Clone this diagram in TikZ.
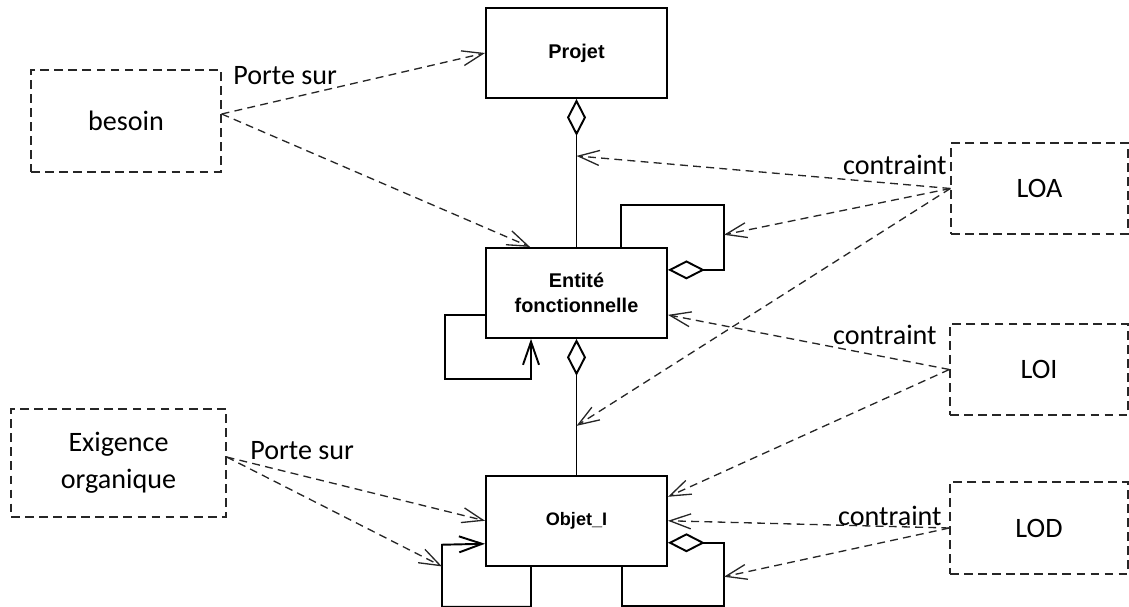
\documentclass[tikz,border=0pt]{standalone}
\usepackage{fontspec}
\setmainfont{Carlito}
\newfontfamily\clsfont{Liberation Sans}
\usetikzlibrary{arrows.meta,positioning,calc}
\definecolor{depGray}{HTML}{262626}
\tikzset{
  classbox/.style={draw=black, line width=1.1pt, minimum width=3.62cm, minimum height=1.8cm,
    align=center, font=\clsfont\bfseries\fontsize{11.3}{14}\selectfont},
  reqbox/.style={draw=depGray, line width=0.75pt, dash pattern=on 5pt off 3pt,
    align=center, font=\fontsize{16}{21}\selectfont},
  arcLabel/.style={font=\fontsize{16}{19}\selectfont, inner sep=0pt},
  depArc/.style={draw=depGray, line width=0.75pt, dash pattern=on 4.5pt off 3pt,
    -{Straight Barb[length=4.2mm,width=3mm]}},
  aggArc/.style={draw=black, line width=1.1pt, {Diamond[open,length=7.4mm,width=3.8mm]}-},
  selfArc/.style={draw=black, line width=1.1pt, -{Straight Barb[length=4.6mm,width=3.2mm]}},
}
\begin{document}
\begin{tikzpicture}[x=0.02cm, y=-0.02cm]
    \useasboundingbox (0,0) rectangle (1129,607);
    % classes
    \node[classbox] (proj) at (576.5,53) {Projet};
    \node[classbox, below=2.96cm of proj] (ent) {Entité\\fonctionnelle};
    \node[classbox, below=2.72cm of ent, font=\clsfont\bfseries\fontsize{10.3}{13}\selectfont] (obj) {Objet\_I};
    % requirements and levels
    \node[reqbox, minimum width=3.8cm, minimum height=2.04cm] (bes) at (126,121) {besoin};
    \node[reqbox, minimum width=4.3cm, minimum height=2.16cm] (exi) at (118.5,463) {Exigence\\organique};
    \node[reqbox, minimum width=3.54cm, minimum height=1.82cm] (loa) at (1039.5,188.5) {LOA};
    \node[reqbox, minimum width=3.56cm, minimum height=1.82cm] (loi) at (1039,369.5) {LOI};
    \node[reqbox, minimum width=3.56cm, minimum height=1.84cm] (lod) at (1039,528) {LOD};
    % aggregations
    \draw[aggArc] (proj.south) -- coordinate[pos=.385] (pe) (ent.north);
    \draw[aggArc] (ent.south) -- coordinate[pos=.64] (eo) (obj.north);
    % self loops
    \draw[aggArc] ([yshift=.46cm]ent.east) -- ++(56,0) -- coordinate[pos=.54] (eloop) ++(0,-65) -| ([xshift=.89cm]ent.north);
    \draw[selfArc] ([yshift=-.44cm]ent.west) -- ++(-40,0) -- ++(0,64) -| ([xshift=-.91cm]ent.south);
    \draw[selfArc] ([xshift=-.91cm]obj.south) -- ++(0,40) -- ++(-89,0) -- coordinate[pos=.65] (oloopL) ++(0,-62) -- ([yshift=-.46cm]obj.west);
    \draw[aggArc] ([yshift=-.44cm]obj.east) -- ++(56,0) -- coordinate[pos=.54] (oloopR) ++(0,63) -| ([xshift=.91cm]obj.south);
    % dependencies
    \draw[depArc] ([yshift=.14cm]bes.east) -- (proj.west);
    \draw[depArc] ([yshift=.14cm]bes.east) -- ([xshift=-.93cm]ent.north);
    \draw[depArc] (loa.west) -- (pe);
    \draw[depArc] (loa.west) -- (eloop);
    \draw[depArc] (loa.west) -- (eo);
    \draw[depArc] (loi.west) -- ([yshift=-.44cm]ent.east);
    \draw[depArc] (loi.west) -- ([yshift=.48cm]obj.east);
    \draw[depArc] (lod.west) -- (obj.east);
    \draw[depArc] (lod.west) -- (oloopR);
    \draw[depArc] ([yshift=.12cm]exi.east) -- (obj.west);
    \draw[depArc] ([yshift=.12cm]exi.east) -- (oloopL);
    % labels
    \node[arcLabel, anchor=base west] (porteBes) at (233,85) {Porte sur};
    \node[arcLabel, anchor=base west] (porteExi) at (250,460) {Porte sur};
    \node[arcLabel, anchor=base east] (ctrLoa) at (947,175) {contraint};
    \node[arcLabel, anchor=base east] (ctrLoi) at (937,345) {contraint};
    \node[arcLabel, anchor=base east] (ctrLod) at (942,525) {contraint};
  \end{tikzpicture}
\end{document}
